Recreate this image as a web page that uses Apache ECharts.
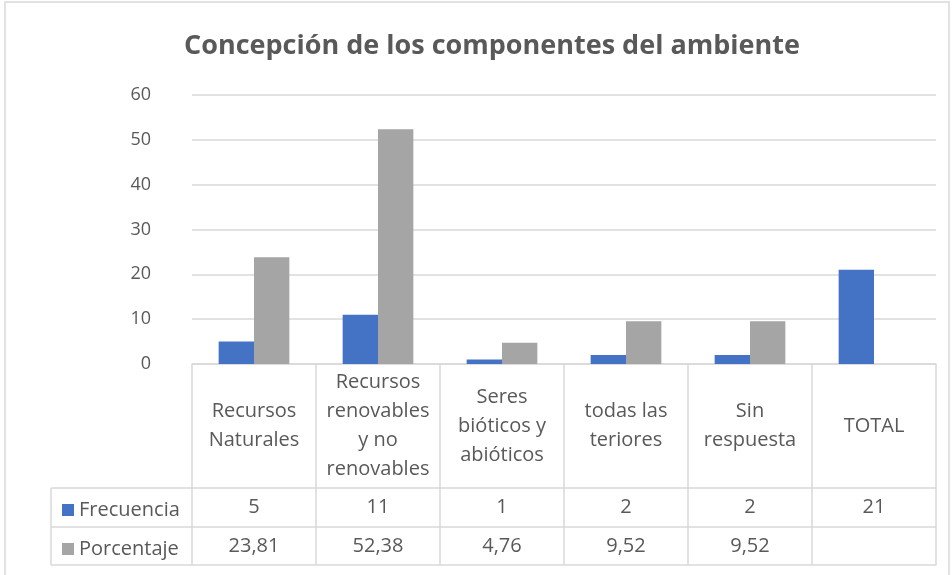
<!DOCTYPE html>
<html>
<head>
<meta charset="utf-8">
<script src="https://cdn.jsdelivr.net/npm/echarts@6/dist/echarts.min.js"></script>
<style>
  html, body { margin: 0; padding: 0; background: #fff; }
  #chart { width: 952px; height: 575px; }
</style>
</head>
<body>
<div id="chart"></div>
<script>
// datos de la tabla
const categorias = ['Recursos\nNaturales', 'Recursos\nrenovables\ny no\nrenovables', 'Seres\nbióticos y\nabióticos', 'todas las\nteriores', 'Sin\nrespuesta', 'TOTAL']
const frecuencia = [5, 11, 1, 2, 2, 21]
const porcentaje = [23.81, 52.38, 4.76, 9.52, 9.52, null]
const yTicks = { min: 0, max: 60, interval: 10 }

const fmt = v => (v == null ? '' : String(v).replace('.', ','))
const fmtPct = v => (v == null ? '' : v.toFixed(2).replace('.', ','))

const font = 'Open Sans'
const txt = '#595959'
const line = '#d9d9d9'
const fs = 20

const chart = echarts.init(document.getElementById('chart'))

// filas de la tabla: ejes extra con offset
const tableAxis = (labels, offset, showLabel) => ({
    type: 'category',
    position: 'bottom',
    offset: offset,
    data: labels,
    axisLine: { show: true, lineStyle: { color: line, width: 1.5 } },
    axisTick: { show: false },
    axisLabel: {
        show: showLabel,
        interval: 0,
        margin: 9,
        color: txt,
        fontFamily: font,
        fontSize: fs
    }
})

chart.setOption({
    animation: false,
    title: {
        text: 'Concepción de los componentes del ambiente',
        left: 179,
        top: 28,
        textStyle: { fontFamily: font, fontSize: 27, fontWeight: 'bold', color: txt }
    },
    legend: [
        {
            data: ['Frecuencia'],
            left: 57, top: 495,
            icon: 'rect', itemWidth: 12, itemHeight: 12, itemGap: 6,
            textStyle: { fontFamily: font, fontSize: fs, color: txt }
        },
        {
            data: ['Porcentaje'],
            left: 57, top: 534,
            icon: 'rect', itemWidth: 12, itemHeight: 12, itemGap: 6,
            textStyle: { fontFamily: font, fontSize: fs, color: txt }
        }
    ],
    grid: { left: 192, right: 16, top: 95, bottom: 211 },
    xAxis: [
        {
            type: 'category',
            data: categorias,
            axisLine: { show: true, lineStyle: { color: line, width: 1.5 } },
            axisTick: { show: true, interval: 0, length: 201, lineStyle: { color: line, width: 1.5 } },
            axisLabel: {
                interval: 0,
                margin: 62,
                verticalAlign: 'middle',
                lineHeight: 29,
                color: txt,
                fontFamily: font,
                fontSize: fs
            }
        },
        tableAxis(frecuencia.map(fmt), 124, true),
        tableAxis(porcentaje.map(fmtPct), 163, true),
        tableAxis(categorias.map(() => ''), 201, false)
    ],
    yAxis: {
        type: 'value',
        min: yTicks.min,
        max: yTicks.max,
        interval: yTicks.interval,
        axisLine: { show: false },
        axisTick: { show: false },
        axisLabel: { color: txt, fontFamily: font, fontSize: 18, margin: 41 },
        splitLine: { lineStyle: { color: line, width: 1.5 } }
    },
    series: [
        {
            name: 'Frecuencia',
            type: 'bar',
            data: frecuencia,
            barGap: '0%',
            barCategoryGap: '43%',
            itemStyle: { color: '#4472C4' }
        },
        {
            name: 'Porcentaje',
            type: 'bar',
            data: porcentaje,
            itemStyle: { color: '#A5A5A5' }
        }
    ],
    graphic: [
        // borde exterior
        { type: 'rect', shape: { x: 5, y: 2, width: 944, height: 580 }, style: { fill: 'none', stroke: line, lineWidth: 1.5 }, silent: true },
        // columna de la leyenda
        { type: 'line', shape: { x1: 51, y1: 488, x2: 192, y2: 488 }, style: { stroke: line, lineWidth: 1.5 } },
        { type: 'line', shape: { x1: 51, y1: 527, x2: 192, y2: 527 }, style: { stroke: line, lineWidth: 1.5 } },
        { type: 'line', shape: { x1: 51, y1: 565, x2: 192, y2: 565 }, style: { stroke: line, lineWidth: 1.5 } },
        { type: 'line', shape: { x1: 51, y1: 488, x2: 51, y2: 565 }, style: { stroke: line, lineWidth: 1.5 } }
    ]
})
</script>
</body>
</html>
